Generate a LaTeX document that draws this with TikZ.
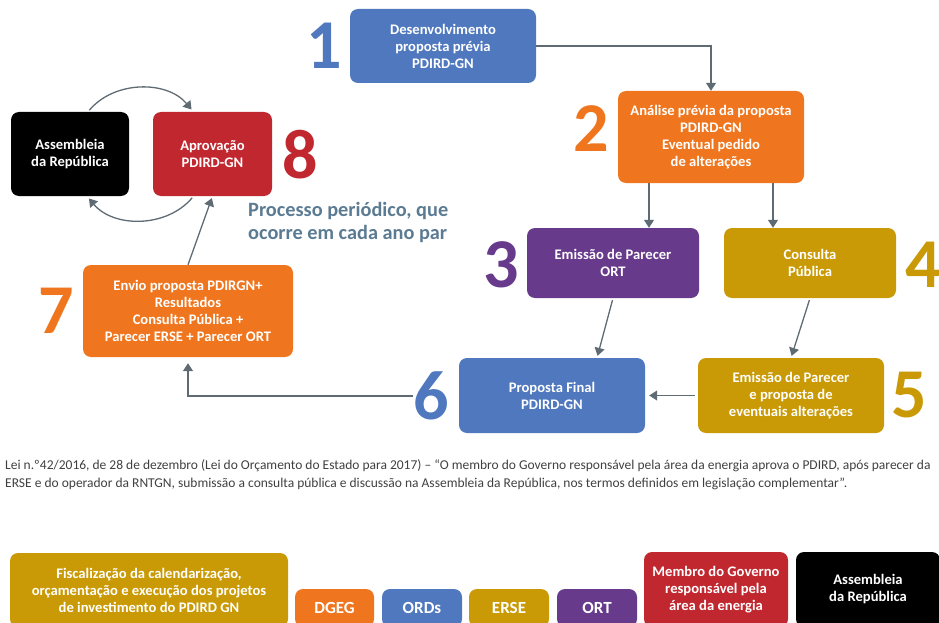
\documentclass[tikz,border=0pt]{standalone}
\usepackage{fontspec}
\setmainfont{Carlito}
\usetikzlibrary{arrows.meta,positioning}

\definecolor{pdblue}{HTML}{5078BE}
\definecolor{pdorange}{HTML}{EF761F}
\definecolor{pdpurple}{HTML}{683A8C}
\definecolor{pdgold}{HTML}{C99A05}
\definecolor{pdred}{HTML}{C1272F}
\definecolor{arrgray}{HTML}{5F6B73}
\definecolor{procgray}{HTML}{5B7B93}
\definecolor{notegray}{HTML}{404040}

\begin{document}
\begin{tikzpicture}[
  x=1pt, y=-1pt,
  box/.style={rounded corners=8pt, inner sep=2pt, align=center, text=white,
    font=\fontsize{14.6}{17}\selectfont\bfseries},
  tag/.style={box, minimum width=80pt, minimum height=38pt,
    font=\fontsize{17}{19}\selectfont\bfseries},
  num/.style={inner sep=0pt, font=\fontsize{70}{70}\selectfont\bfseries},
  arr/.style={draw=arrgray, line width=1.3pt, -{Triangle[width=10pt,length=8pt]}}
]
\useasboundingbox (0,0) rectangle (939,623);
\clip (0,0) rectangle (939,623);

% Process steps
\node[box, fill=pdblue, minimum width=186pt, minimum height=74pt] (b1) at (443,46) {Desenvolvimento\\proposta prévia\\PDIRD-GN};
\node[box, fill=pdorange, minimum width=186pt, minimum height=92pt] (b2) at (711,137) {Análise prévia da proposta\\PDIRD-GN\\Eventual pedido\\de alterações};
\node[box, fill=pdpurple, minimum width=172pt, minimum height=70pt] (b3) at (613,263) {Emissão de Parecer\\ORT};
\node[box, fill=pdgold, minimum width=172pt, minimum height=70pt] (b4) at (810,263) {Consulta\\Pública};
\node[box, fill=pdgold, minimum width=186pt, minimum height=75pt] (b5) at (791,395.5) {Emissão de Parecer\\e proposta de\\eventuais alterações};
\node[box, fill=pdblue, minimum width=186pt, minimum height=75pt] (b6) at (552,395.5) {Proposta Final\\PDIRD-GN};
\node[box, fill=pdorange, minimum width=210pt, minimum height=92pt] (b7) at (188,311) {Envio proposta PDIRGN+\\Resultados\\Consulta Pública +\\Parecer ERSE + Parecer ORT};
\node[box, fill=pdred, minimum width=119pt, minimum height=84pt] (b8) at (212.5,154) {Aprovação\\PDIRD-GN};
\node[box, fill=black, minimum width=118pt, minimum height=84pt] (asm) at (70,154) {Assembleia\\da República};

% Step numbers
\node[num, text=pdblue] (n1) at (324,46) {1};
\node[num, text=pdorange] (n2) at (591,129) {2};
\node[num, text=pdpurple] (n3) at (501,265) {3};
\node[num, text=pdgold] (n4) at (923,265) {4};
\node[num, text=pdgold] (n5) at (909,395) {5};
\node[num, text=pdblue] (n6) at (431,396) {6};
\node[num, text=pdorange] (n7) at (56,311) {7};
\node[num, text=pdred] (n8) at (300,155) {8};

\node[anchor=north west, inner sep=0pt, align=left, text=procgray,
  font=\fontsize{20.3}{23}\selectfont\bfseries] (proc) at (248,202) {Processo periódico, que\\ocorre em cada ano par};

% Connectors
\draw[arr] (b1.east) -| (b2.north);
\draw[arr] ([xshift=-62pt]b2.south) -- ([xshift=-62pt]b2.south |- b3.north);
\draw[arr] ([xshift=62pt]b2.south) -- ([xshift=62pt]b2.south |- b4.north);
\draw[arr, shorten <=2pt, shorten >=2pt] (b3.south) -- ([xshift=45pt]b6.north);
\draw[arr, shorten <=2pt, shorten >=2pt] (b4.south) -- (b5.north);
\draw[arr, shorten <=3pt, shorten >=4pt] (b5.west) -- (b6.east);
\draw[arr, shorten >=6pt] (n6.west) -| (b7.south);
\draw[arr, shorten >=2pt] (b7.north) -- (b8.south);
\draw[arr, shorten <=2pt, shorten >=3pt] ([xshift=18pt]asm.north) to[bend left=50] ([xshift=-19pt]b8.north);
\draw[arr, shorten <=2pt, shorten >=3pt] ([xshift=-19pt]b8.south) to[bend left=50] ([xshift=17pt]asm.south);

% Legal note
\node[anchor=north west, inner sep=0pt, align=left, text=notegray,
  font=\fontsize{13.5}{18}\selectfont] (note) at (5,459) {Lei n.º42/2016, de 28 de dezembro (Lei do Orçamento do Estado para 2017) – “O membro do Governo responsável pela área da energia aprova o PDIRD, após parecer da\\ERSE e do operador da RNTGN, submissão a consulta pública e discussão na Assembleia da República, nos termos definidos em legislação complementar”.};

% Legend
\node[box, fill=pdgold, minimum width=278pt, minimum height=74pt] (lg1) at (149,590) {Fiscalização da calendarização,\\orçamentação e execução dos projetos\\de investimento do PDIRD GN};
\node[tag, fill=pdorange, minimum width=79pt] (lg2) at (334.5,608) {DGEG};
\node[tag, fill=pdblue] (lg3) at (422,608) {ORDs};
\node[tag, fill=pdgold] (lg4) at (509,608) {ERSE};
\node[tag, fill=pdpurple] (lg5) at (597,608) {ORT};
\node[box, fill=pdred, minimum width=144pt, minimum height=75pt] (lg6) at (716,589.5) {Membro do Governo\\responsável pela\\área da energia};
\node[box, fill=black, minimum width=144pt, minimum height=75pt] (lg7) at (868,589.5) {Assembleia\\da República};
\end{tikzpicture}
\end{document}
